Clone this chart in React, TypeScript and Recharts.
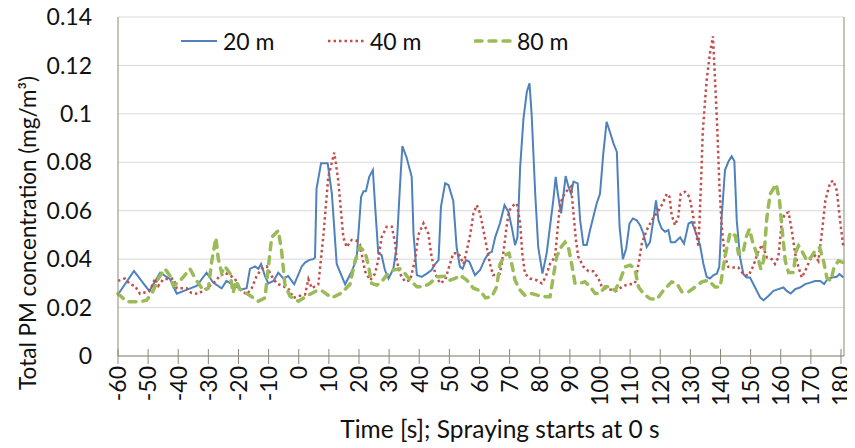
import React from 'react';
import { LineChart, Line, XAxis, YAxis, CartesianGrid, ReferenceLine } from 'recharts';

// time [s] and total PM concentration [mg/m3] for each distance
const t20 = [-60, -54.7, -49.6, -46, -42.7, -40.5, -36, -33.9, -30.6, -28.4, -25.6, -24, -21.2, -19, -17.3, -16.2, -14.5, -13.4, -12.5, -11.2, -10.1, -8.4, -6.8, -5.1, -3.5, -1.5, 1, 2.1, 3.4, 4.8, 5.4, 5.9, 7.4, 9.6, 11, 12.6, 15.4, 17.6, 19.2, 20.7, 21.5, 22.3, 23.4, 24.6, 25.3, 26.4, 27.5, 28.6, 29.8, 31.4, 32.5, 33.6, 34.4, 35.8, 37.5, 38.1, 39.2, 40.8, 42.5, 44.1, 45.3, 46.4, 47.2, 48.6, 49.7, 51.3, 52.4, 53.5, 54.4, 55.5, 56.6, 58.5, 60.2, 61.8, 63, 64.1, 65.2, 66.8, 68.3, 69.6, 70.9, 71.8, 72.6, 73.5, 74.6, 75.7, 76.6, 77.3, 78.5, 79.5, 80.9, 82.3, 83.4, 84.5, 85.3, 86, 87.1, 87.9, 88.6, 89.5, 90.4, 91.2, 92.6, 93.4, 94.5, 95.6, 96.7, 97.8, 98.9, 100, 101.1, 102.2, 103.3, 104.5, 105.6, 106.5, 107.6, 108.7, 109.8, 110.9, 112.2, 113.3, 114.4, 115.5, 116.6, 117.7, 118.6, 119.4, 120.5, 121.6, 122.7, 123.5, 124.9, 126.6, 127.9, 129.4, 130.5, 131.9, 133.2, 134.3, 135.4, 136.5, 137.7, 138.8, 139.6, 140.4, 141.5, 142.6, 143.7, 144.6, 145.4, 146.5, 147.6, 148.7, 149.8, 151.5, 153.2, 154.3, 155.9, 157.6, 159.2, 160.9, 162, 163.3, 164.8, 166.4, 168.1, 169.8, 171.4, 173.1, 174.4, 175.5, 177, 178.6, 179.5, 180.8];
const pm20 = [0.0254, 0.0351, 0.0268, 0.0344, 0.0317, 0.0257, 0.0279, 0.0289, 0.0344, 0.0303, 0.0279, 0.031, 0.029, 0.0275, 0.028, 0.036, 0.037, 0.036, 0.038, 0.033, 0.03, 0.031, 0.0344, 0.032, 0.033, 0.0296, 0.037, 0.0386, 0.0396, 0.04, 0.0407, 0.069, 0.0796, 0.0796, 0.067, 0.038, 0.0296, 0.035, 0.04, 0.0657, 0.068, 0.068, 0.074, 0.0768, 0.063, 0.0424, 0.0417, 0.0355, 0.032, 0.036, 0.045, 0.07, 0.0867, 0.082, 0.074, 0.0506, 0.0334, 0.0327, 0.034, 0.0355, 0.038, 0.0396, 0.0616, 0.0713, 0.0706, 0.064, 0.045, 0.0369, 0.036, 0.0396, 0.039, 0.0334, 0.0355, 0.04, 0.0424, 0.043, 0.049, 0.0548, 0.0623, 0.0596, 0.052, 0.0458, 0.049, 0.078, 0.098, 0.109, 0.1126, 0.1, 0.067, 0.045, 0.034, 0.0424, 0.0534, 0.0644, 0.074, 0.067, 0.0589, 0.067, 0.0743, 0.07, 0.067, 0.072, 0.0713, 0.0562, 0.0458, 0.0458, 0.052, 0.0575, 0.063, 0.067, 0.0837, 0.0967, 0.0925, 0.0877, 0.0843, 0.0533, 0.04, 0.0444, 0.0547, 0.0568, 0.056, 0.054, 0.0506, 0.045, 0.047, 0.056, 0.0643, 0.056, 0.0526, 0.0513, 0.052, 0.047, 0.047, 0.049, 0.0464, 0.0547, 0.0554, 0.0506, 0.0458, 0.0382, 0.0327, 0.032, 0.0334, 0.034, 0.0368, 0.0575, 0.0768, 0.0802, 0.0825, 0.0805, 0.0559, 0.0407, 0.0338, 0.0324, 0.0324, 0.0283, 0.0241, 0.023, 0.0248, 0.0269, 0.0276, 0.0283, 0.0269, 0.0258, 0.0276, 0.0283, 0.0297, 0.0303, 0.031, 0.031, 0.0297, 0.0317, 0.0324, 0.0327, 0.0338, 0.0324];

const t40 = [-60, -57.7, -56, -54.4, -52.7, -51.6, -49.4, -47.7, -46.6, -45, -41.6, -40.5, -37.2, -35.6, -33.3, -30.6, -28.4, -26.2, -24.5, -21.2, -19.5, -17.3, -15.6, -14, -12.3, -10.6, -9, -7.3, -5.7, -3.5, -1.8, -0.1, 2.1, 3.2, 4.3, 6.5, 8.2, 9.8, 11.8, 13.1, 14.8, 15.9, 17.6, 19.2, 20.3, 22, 23.7, 25.3, 26.4, 27.5, 29.2, 30.9, 32, 32.5, 33.6, 35.3, 37, 38.6, 39.7, 41.4, 43, 44.1, 45.3, 46.9, 48.6, 49.7, 51.3, 53, 54.7, 55.8, 56.9, 58, 59.1, 60.2, 61.3, 62.4, 63.5, 64.5, 65.2, 66.8, 67.9, 69, 69.8, 71.3, 72.4, 73.5, 74.2, 75.1, 76.8, 79, 80.7, 82, 83.4, 85.1, 86, 86.8, 88.2, 89.5, 90.4, 91.2, 92, 92.8, 94.5, 96.2, 97.8, 99.5, 100.6, 101.7, 103.3, 105.6, 107.8, 110, 111.6, 112.8, 113.9, 115.5, 117.2, 119.4, 120.8, 122.2, 123.1, 123.8, 124.9, 126, 126.8, 128.2, 129.7, 130.8, 131.9, 132.7, 133.5, 134.1, 134.9, 135.5, 136.5, 137.5, 138.5, 139, 139.6, 140.4, 141.5, 142.6, 144.3, 145.9, 147.6, 149.3, 150.9, 152.6, 153.9, 155.4, 157, 158.1, 159.2, 160.4, 161.5, 162.6, 163.7, 164.8, 165.9, 167, 168.4, 169.8, 171.4, 172.5, 173.6, 174.8, 176.4, 177.5, 178.6, 179.7, 180.8];
const pm40 = [0.031, 0.032, 0.0296, 0.029, 0.0257, 0.026, 0.027, 0.032, 0.029, 0.0317, 0.032, 0.028, 0.028, 0.026, 0.0257, 0.028, 0.03, 0.033, 0.0344, 0.032, 0.0275, 0.0254, 0.028, 0.033, 0.036, 0.037, 0.033, 0.03, 0.029, 0.028, 0.024, 0.0247, 0.0254, 0.0317, 0.028, 0.0296, 0.05, 0.074, 0.084, 0.0726, 0.049, 0.045, 0.048, 0.0476, 0.046, 0.035, 0.0313, 0.034, 0.0396, 0.049, 0.0534, 0.0534, 0.0465, 0.0396, 0.034, 0.0307, 0.0313, 0.0396, 0.05, 0.0548, 0.0506, 0.041, 0.034, 0.03, 0.0313, 0.036, 0.0424, 0.0424, 0.038, 0.0437, 0.05, 0.0589, 0.0623, 0.0589, 0.052, 0.045, 0.038, 0.0334, 0.0334, 0.034, 0.0424, 0.0534, 0.06, 0.0623, 0.063, 0.0548, 0.0424, 0.034, 0.032, 0.0313, 0.03, 0.0327, 0.038, 0.041, 0.0534, 0.063, 0.067, 0.069, 0.07, 0.0589, 0.048, 0.041, 0.0369, 0.035, 0.035, 0.032, 0.0286, 0.028, 0.0275, 0.027, 0.029, 0.0296, 0.03, 0.038, 0.0465, 0.052, 0.056, 0.06, 0.063, 0.067, 0.0657, 0.0582, 0.054, 0.0575, 0.067, 0.0678, 0.0657, 0.0588, 0.0506, 0.045, 0.07, 0.092, 0.106, 0.115, 0.125, 0.132, 0.106, 0.092, 0.0713, 0.0533, 0.041, 0.0368, 0.0366, 0.0366, 0.0338, 0.0331, 0.0372, 0.0434, 0.046, 0.0407, 0.04, 0.038, 0.0407, 0.0559, 0.0589, 0.0593, 0.0517, 0.0421, 0.0366, 0.0324, 0.0359, 0.04, 0.0414, 0.0393, 0.0503, 0.0641, 0.0717, 0.0724, 0.0683, 0.0559, 0.0448];

const t80 = [-60, -57, -52.7, -50.5, -48.3, -46.6, -44.4, -42.7, -41.6, -39.4, -36.1, -34.4, -31.6, -30, -28.9, -27.5, -26.7, -25.6, -24.5, -22.8, -21.8, -20.8, -19.5, -16.7, -13.4, -11.2, -10.1, -9, -6.8, -5.7, -4.6, -2.9, -0.1, 2.6, 6, 7.6, 11, 14.3, 17, 18.7, 20.3, 22, 23.1, 24.2, 25.9, 27.5, 29.2, 31.4, 33.6, 35.3, 37, 39.2, 41.4, 43.6, 45.8, 48.6, 50.2, 51.9, 53.5, 55.8, 58, 60.2, 62, 64.1, 65.7, 66.8, 68.5, 69.8, 70.7, 71.8, 73.5, 75.1, 77.3, 79.5, 81.8, 83.4, 84.5, 85.6, 87.1, 88.4, 89.5, 90.6, 91.7, 93.4, 95, 96.7, 98.4, 100, 101.7, 103.3, 105, 106.7, 108.3, 110, 111.6, 112.8, 114.4, 116.6, 118.8, 121, 123.8, 125.5, 127.2, 129.4, 131.6, 133.8, 136, 138.2, 139.9, 141.5, 143.2, 144.9, 146, 147.4, 148.5, 149.6, 150.7, 152.1, 153.4, 154.3, 155.4, 156.5, 158.5, 159.6, 160.4, 161.5, 162.6, 164.2, 165.1, 165.9, 167, 168.7, 170, 171.4, 172.9, 174.2, 175.3, 176.6, 177.7, 179.2, 180.8];
const pm80 = [0.0257, 0.0224, 0.0224, 0.023, 0.027, 0.032, 0.036, 0.033, 0.029, 0.031, 0.036, 0.032, 0.027, 0.028, 0.039, 0.0488, 0.04, 0.0344, 0.037, 0.034, 0.026, 0.031, 0.0275, 0.0254, 0.0226, 0.024, 0.0365, 0.049, 0.0518, 0.0435, 0.0296, 0.0247, 0.0226, 0.0247, 0.027, 0.027, 0.024, 0.0261, 0.0296, 0.0393, 0.045, 0.043, 0.0376, 0.03, 0.0293, 0.0307, 0.0334, 0.0355, 0.036, 0.034, 0.0313, 0.0286, 0.0286, 0.03, 0.0327, 0.033, 0.0313, 0.032, 0.0334, 0.0313, 0.028, 0.027, 0.024, 0.0245, 0.0286, 0.038, 0.0417, 0.0424, 0.038, 0.0313, 0.0272, 0.025, 0.0258, 0.025, 0.0245, 0.0245, 0.0327, 0.041, 0.045, 0.047, 0.045, 0.038, 0.03, 0.03, 0.0307, 0.0286, 0.0258, 0.0258, 0.0286, 0.0286, 0.027, 0.0313, 0.0368, 0.0375, 0.036, 0.0285, 0.0258, 0.0237, 0.0233, 0.027, 0.0306, 0.03, 0.0265, 0.0265, 0.0285, 0.0306, 0.0313, 0.0285, 0.0285, 0.041, 0.051, 0.0497, 0.0421, 0.0421, 0.049, 0.0524, 0.0469, 0.0421, 0.0359, 0.0393, 0.0572, 0.0669, 0.071, 0.0641, 0.0531, 0.0393, 0.0345, 0.0345, 0.0434, 0.0455, 0.0434, 0.0393, 0.0407, 0.0434, 0.0448, 0.0393, 0.0324, 0.031, 0.0366, 0.0393, 0.0386];

const timeTicks = [-60, -50, -40, -30, -20, -10, 0, 10, 20, 30, 40, 50, 60, 70, 80, 90, 100, 110, 120, 130, 140, 150, 160, 170, 180];
const pmTicks = [0, 0.02, 0.04, 0.06, 0.08, 0.1, 0.12, 0.14];
const seriesNames = ['20 m', '40 m', '80 m'];

const FONT = 'Lato, "Open Sans", sans-serif';
const AXIS = '#8b8778';
const BLUE = '#4f81bd';
const RED = '#c0504d';
const GREEN = '#9bbb59';

const rows = (ts: number[], vs: number[]) => ts.map((t, i) => ({ t, v: vs[i] }));

const styles = [
  { color: BLUE, width: 2, dash: undefined as string | undefined, cap: 'butt' },
  { color: RED, width: 2.5, dash: '2.5 3', cap: 'butt' },
  { color: GREEN, width: 3.5, dash: '7 7', cap: 'round' },
];

function TimeTick({ x, y, payload }: any) {
  return (
    <g transform={`translate(${x},${y})`}>
      <line y1={-7} y2={8} stroke={AXIS} strokeWidth={1} />
      <text transform="rotate(-90)" x={-10} dy="0.36em" textAnchor="end" fontSize={23} fill="#111" fontFamily={FONT}>
        {payload.value}
      </text>
    </g>
  );
}

function LegendBox() {
  return (
    <div style={{ position: 'absolute', left: 172, top: 29, display: 'flex', fontFamily: FONT, fontSize: 23, lineHeight: '24px', color: '#111' }}>
      {seriesNames.map((name, i) => (
        <div key={name} style={{ display: 'flex', alignItems: 'center', width: 147, height: 24 }}>
          <svg width={38} height={12}>
            <line x1={1} y1={6} x2={37} y2={6} stroke={styles[i].color} strokeWidth={styles[i].width}
              strokeDasharray={styles[i].dash} strokeLinecap={styles[i].cap as any} />
          </svg>
          <span style={{ marginLeft: 5 }}>{name}</span>
        </div>
      ))}
    </div>
  );
}

export default function App() {
  const data = [rows(t20, pm20), rows(t40, pm40), rows(t80, pm80)];
  return (
    <div style={{ position: 'relative', width: 847, height: 448, marginTop: -8 }}>
      <LineChart width={847} height={448} margin={{ top: 17, right: 11, left: 0, bottom: 0 }}>
        <CartesianGrid horizontal vertical={false} stroke="#d9d9d9" />
        <XAxis
          type="number"
          dataKey="t"
          domain={[-60, 181]}
          ticks={timeTicks}
          interval={0}
          height={92}
          tickLine={false}
          tickSize={0}
          tickMargin={0}
          stroke={AXIS}
          tick={<TimeTick />}
          label={{
            content: () => (
              <text x={492} y={438} textAnchor="middle" fontSize={24.5} fill="#111" fontFamily={FONT}>
                Time [s]; Spraying starts at 0 s
              </text>
            ),
          }}
        />
        <YAxis
          type="number"
          domain={[0, 0.14]}
          ticks={pmTicks}
          interval={0}
          width={110}
          tickLine={false}
          tickSize={0}
          tickMargin={26}
          stroke={AXIS}
          tick={{ fontSize: 23, fill: '#111', fontFamily: FONT }}
          tickFormatter={(v: number) => String(v)}
          label={{
            content: () => (
              <text x={28} y={233} transform="rotate(-90 28 233)" textAnchor="middle" fontSize={22.5} fill="#111" fontFamily={FONT}>
                Total PM concentration (mg/m³)
              </text>
            ),
          }}
        />
        <ReferenceLine x={181} stroke={AXIS} />
        {data.map((d, i) => (
          <Line
            key={seriesNames[i]}
            data={d}
            dataKey="v"
            name={seriesNames[i]}
            type="linear"
            stroke={styles[i].color}
            strokeWidth={styles[i].width}
            strokeDasharray={styles[i].dash}
            strokeLinecap={styles[i].cap as any}
            dot={false}
            activeDot={false}
            isAnimationActive={false}
          />
        ))}
      </LineChart>
      <LegendBox />
    </div>
  );
}
